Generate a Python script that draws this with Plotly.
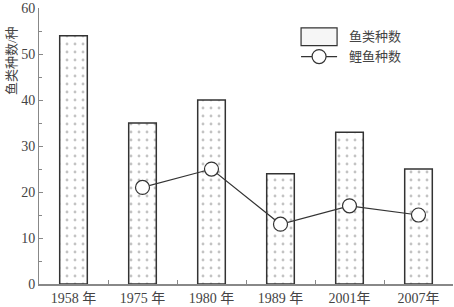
import plotly.graph_objects as go

categories = ["1958 年", "1975 年", "1980 年", "1989 年", "2001年", "2007年"]
fish_species = [54, 35, 40, 24, 33, 25]
carp_x = [1, 2, 3, 4, 5]
carp_species = [21, 25, 13, 17, 15]
y_ticks = [0, 10, 20, 30, 40, 50, 60]
legend_names = ["鱼类种数", "鲤鱼种数"]

FONT = "Liberation Serif, Noto Sans CJK SC"
xs = list(range(len(categories)))

fig = go.Figure()
fig.add_trace(go.Bar(
    x=xs, y=fish_species, width=0.4, name=legend_names[0], showlegend=False,
    marker=dict(color="white",
                line=dict(color="#333", width=1.5),
                pattern=dict(shape=".", fgcolor="#888", bgcolor="white", size=8, solidity=0.1)),
))
fig.add_trace(go.Scatter(
    x=carp_x, y=carp_species, name=legend_names[1], mode="lines+markers", showlegend=False,
    line=dict(color="#333", width=1.2),
    marker=dict(symbol="circle", size=14, color="white", line=dict(color="#333", width=1.2)),
))

# custom legend (paper coords)
lx0, lx1 = 0.633, 0.720
shapes = [
    dict(type="rect", xref="paper", yref="paper", x0=lx0, x1=lx1, y0=0.864, y1=0.928,
         fillcolor="#f6f6f6", line=dict(color="#333", width=1.2)),
    dict(type="line", xref="paper", yref="paper", x0=lx0, x1=lx1, y0=0.824, y1=0.824,
         line=dict(color="#333", width=1.2)),
    dict(type="circle", xref="paper", yref="paper", xsizemode="pixel", ysizemode="pixel",
         xanchor=(lx0 + lx1) / 2, yanchor=0.824, x0=-7, x1=7, y0=-7, y1=7,
         fillcolor="white", line=dict(color="#333", width=1.2)),
]
annotations = [
    dict(text=legend_names[0], xref="paper", yref="paper", x=0.744, y=0.896,
         xanchor="left", yanchor="middle", showarrow=False, font=dict(size=13, color="#444")),
    dict(text=legend_names[1], xref="paper", yref="paper", x=0.744, y=0.824,
         xanchor="left", yanchor="middle", showarrow=False, font=dict(size=13, color="#444")),
    dict(text="鱼类种数/种", xref="paper", yref="paper",
         x=-0.066, xanchor="center", y=0.81, yanchor="middle", textangle=-90, showarrow=False,
         font=dict(size=13, color="#444")),
]

fig.update_layout(
    width=454, height=307,
    margin=dict(l=39, r=1, t=7, b=21),
    paper_bgcolor="white", plot_bgcolor="white",
    font=dict(family=FONT, size=14, color="#444"),
    showlegend=False,
    shapes=shapes,
    annotations=annotations,
    xaxis=dict(range=[-0.5, 5.5], tickvals=xs, ticktext=categories,
               ticks="", showgrid=False, zeroline=False,
               showline=True, linecolor="#888", linewidth=2,
               ticklabeloverflow="allow",
               minor=dict(tickvals=[0.5, 1.5, 2.5, 3.5, 4.5], ticks="inside", ticklen=4,
                          tickcolor="#888"),
               tickfont=dict(size=14, color="#444")),
    yaxis=dict(range=[0, 60.02], tickvals=y_ticks, ticks="inside", ticklen=4,
               tickcolor="#888", showgrid=False, zeroline=False,
               showline=True, linecolor="#888", linewidth=1,
               ticklabeloverflow="allow",
               minor=dict(tickvals=[5, 15, 25, 35, 45, 55], ticks="inside", ticklen=3, tickcolor="#888"),
               tickfont=dict(size=14, color="#444")),
)

fig.write_html("out.html")
